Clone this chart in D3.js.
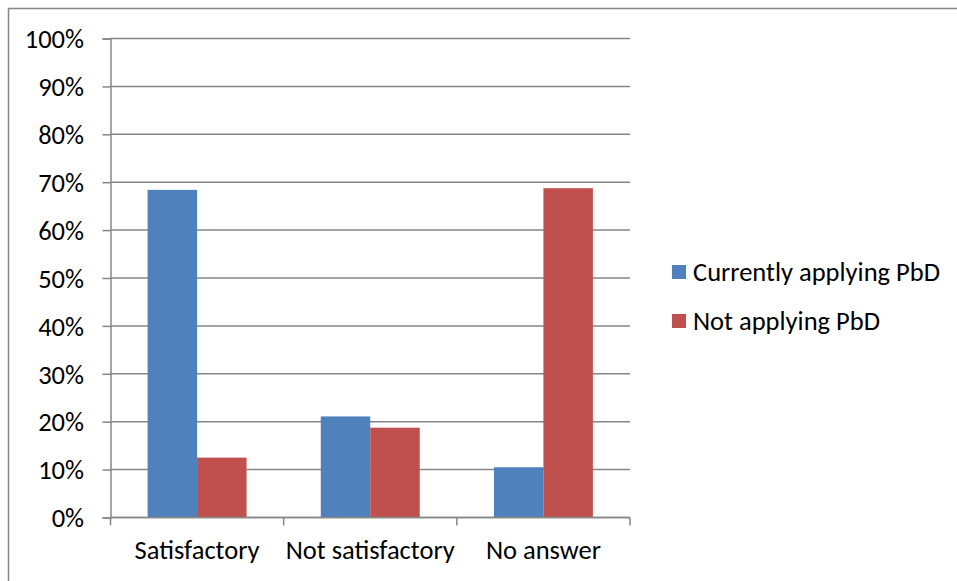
<!DOCTYPE html>
<html>
<head>
<meta charset="utf-8">
<script src="https://cdn.jsdelivr.net/npm/d3@7"></script>
<style>
  html, body { margin: 0; padding: 0; background: #fff; }
  svg { display: block; }
  text { font-family: Carlito, Calibri, Lato, "Open Sans", sans-serif; fill: #000; }
</style>
</head>
<body>
<svg id="chart" width="957" height="581"></svg>
<script>
// Survey results: share of respondents per answer, by PbD status
const categories = ["Satisfactory", "Not satisfactory", "No answer"];
const seriesNames = ["Currently applying PbD", "Not applying PbD"];
const currentlyApplying = [0.684, 0.211, 0.105];
const notApplying = [0.125, 0.1875, 0.6875];
const yTicks = [0, 0.1, 0.2, 0.3, 0.4, 0.5, 0.6, 0.7, 0.8, 0.9, 1.0];
const colors = ["#4f81bd", "#c0504d"];

const seriesValues = [currentlyApplying, notApplying];

const svg = d3.select("#chart");
const W = 957, H = 581;
const FONT = "26.5px";

// outer chart frame (top and left edges visible)
svg.append("rect")
  .attr("x", 8.5).attr("y", 8.5)
  .attr("width", W + 20).attr("height", H + 20)
  .attr("fill", "none")
  .attr("stroke", "#868686")
  .attr("stroke-width", 1.5);

const plot = { left: 110.5, right: 630, top: 38.5, bottom: 517.5 };

const x0 = d3.scaleBand()
  .domain(categories)
  .range([plot.left, plot.right])
  .paddingInner(0)
  .paddingOuter(0);

// two bars per category, gap of 150% bar width split across both sides
const bw = x0.bandwidth() / 3.5;
const x1 = d3.scaleBand()
  .domain(seriesNames)
  .range([0.75 * bw, 2.75 * bw])
  .padding(0);

const y = d3.scaleLinear().domain([0, 1]).range([plot.bottom, plot.top]);

// horizontal gridlines
svg.append("g")
  .selectAll("line")
  .data(yTicks)
  .join("line")
  .attr("x1", plot.left).attr("x2", plot.right)
  .attr("y1", d => y(d)).attr("y2", d => y(d))
  .attr("stroke", "#868686")
  .attr("stroke-width", 1.5);

// bars
const groups = svg.append("g")
  .selectAll("g")
  .data(categories)
  .join("g")
  .attr("transform", d => `translate(${x0(d)},0)`);

groups.selectAll("rect")
  .data((c, i) => seriesNames.map((s, k) => ({ s, k, v: seriesValues[k][i] })))
  .join("rect")
  .attr("x", d => x1(d.s))
  .attr("width", x1.bandwidth())
  .attr("y", d => y(d.v))
  .attr("height", d => y(0) - y(d.v))
  .attr("fill", d => colors[d.k]);

// y axis
const yAxis = d3.axisLeft(y)
  .tickValues(yTicks)
  .tickFormat(d3.format(".0%"))
  .tickSize(8)
  .tickPadding(18.5);

const gy = svg.append("g")
  .attr("transform", `translate(${plot.left},0)`)
  .call(yAxis);
gy.select(".domain").attr("stroke", "#868686").attr("stroke-width", 1.5);
gy.selectAll(".tick line").attr("stroke", "#868686").attr("stroke-width", 1.5);
gy.selectAll(".tick text")
  .style("font-size", FONT)
  .attr("dy", "0.35em");

// x axis
const xAxis = d3.axisBottom(x0).tickSize(0).tickPadding(23);
const gx = svg.append("g")
  .attr("transform", `translate(0,${plot.bottom})`)
  .call(xAxis);
gx.select(".domain").attr("stroke", "#868686").attr("stroke-width", 1.5)
  .attr("d", `M${plot.left},0H${plot.right}`);
gx.selectAll(".tick text").style("font-size", FONT);

// category separator ticks
const sep = [plot.left].concat(categories.map(c => x0(c) + x0.bandwidth()));
gx.append("g").selectAll("line")
  .data(sep)
  .join("line")
  .attr("x1", d => d).attr("x2", d => d)
  .attr("y1", 0).attr("y2", 8)
  .attr("stroke", "#868686")
  .attr("stroke-width", 1.5);

// legend
const legend = svg.append("g").attr("transform", "translate(672,0)");
const legendY = [272, 321];
seriesNames.forEach((name, k) => {
  legend.append("rect")
    .attr("x", 0).attr("y", legendY[k] - 7)
    .attr("width", 14).attr("height", 14)
    .attr("fill", colors[k]);
  legend.append("text")
    .attr("x", 21).attr("y", legendY[k])
    .attr("dy", "0.35em")
    .style("font-size", FONT)
    .text(name);
});
</script>
</body>
</html>
